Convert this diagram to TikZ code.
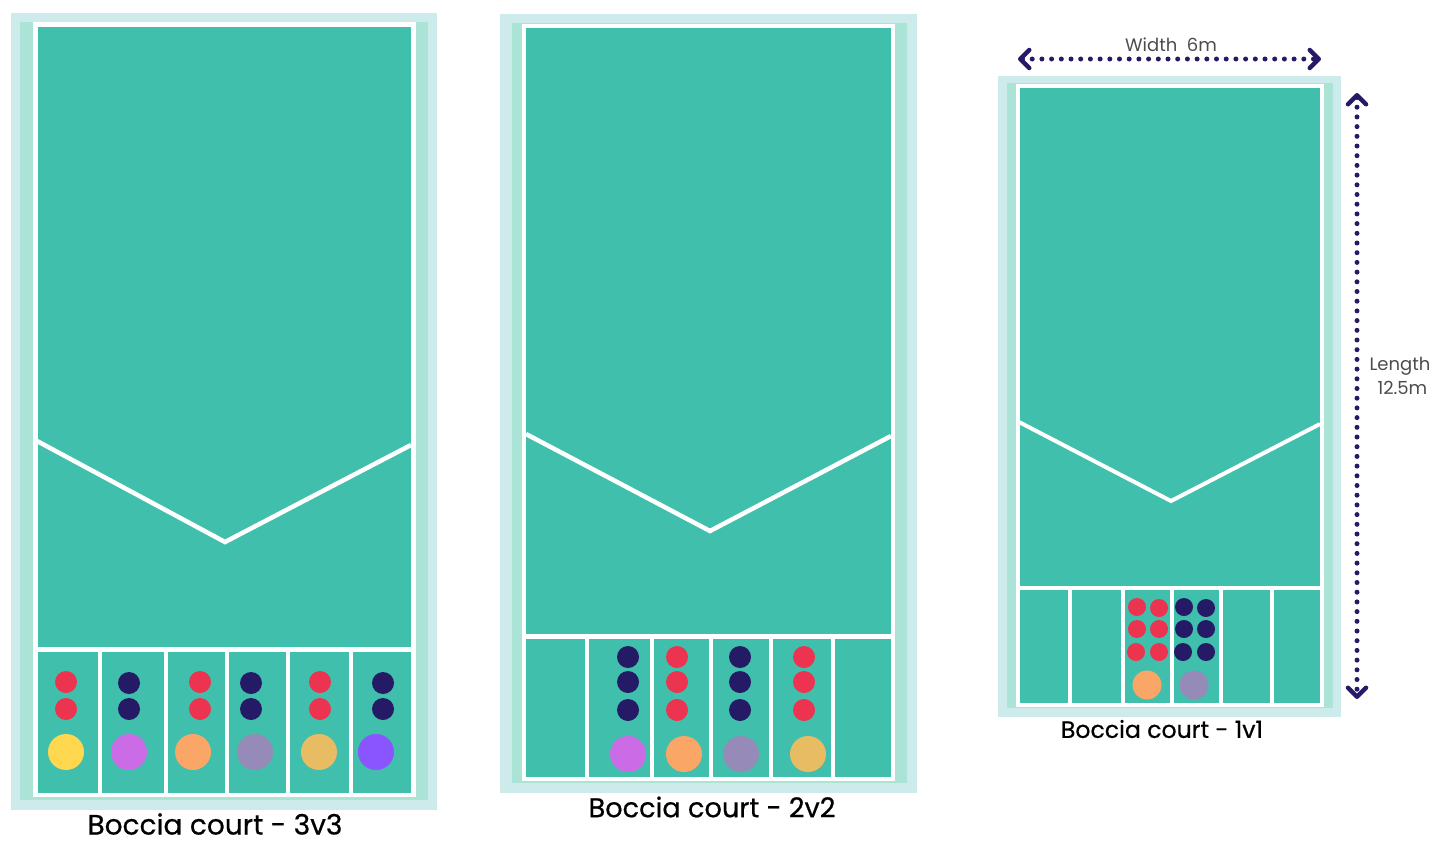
\documentclass[tikz,border=0pt]{standalone}
\usepackage{fontspec}
\setmainfont{Poppins}
\newfontfamily\titlefont[FakeBold=0.6]{Poppins}
\usetikzlibrary{arrows.meta}
\definecolor{paleedge}{HTML}{CDEBEB}
\definecolor{midedge}{HTML}{ABE3D6}
\definecolor{courtgreen}{HTML}{41BFAD}
\definecolor{ballred}{HTML}{EC3350}
\definecolor{ballnavy}{HTML}{251A66}
\definecolor{jackyellow}{HTML}{FFD84F}
\definecolor{jackpink}{HTML}{CB6BE6}
\definecolor{jackorange}{HTML}{F9A666}
\definecolor{jackgrey}{HTML}{968BB8}
\definecolor{jackgold}{HTML}{E8BC62}
\definecolor{jackviolet}{HTML}{8A55FF}

\begin{document}
\begin{tikzpicture}[x=1pt,y=-1pt,
    courtline/.style={draw=white,line width=4.5pt},
    ball/.style={circle,inner sep=0pt,minimum size=22pt},
    jack/.style={circle,inner sep=0pt,minimum size=36pt},
    title/.style={font=\titlefont\fontsize{28}{30}\selectfont,text=black},
    measure/.style={font=\fontsize{18}{24.5}\selectfont,text=black!70,align=center},
    dimension/.style={ballnavy,line width=5pt,line cap=round,dash pattern=on 0pt off 9.7pt,
      {Straight Barb[round,length=9pt,width=18pt,line width=4.5pt]}-{Straight Barb[round,length=9pt,width=18pt,line width=4.5pt]}}]
  \useasboundingbox (0,0) rectangle (1456,844);

  \fill[paleedge] (11,13) rectangle (437,810);
  \fill[midedge] (20,22) rectangle (428,800);
  \filldraw[courtline,fill=courtgreen] (35.5,24.5) rectangle (413.5,795);
  \draw[courtline] (36,649.5) -- (413,649.5);
  \foreach \x in {100,166,227,288,351}
    \draw[courtline] (\x,649.5) -- (\x,795);
  \draw[courtline] (37,441) -- (225,542) -- (411,445);
  \foreach \x/\y [count=\i] in {66/682,66/709,200/682,200/709,320/682,320/709}
    \node[ball,fill=ballred] (threered\i) at (\x,\y) {};
  \foreach \x/\y [count=\i] in {129/683,129/709,251/683,251/709,383/683,383/709}
    \node[ball,fill=ballnavy] (threenavy\i) at (\x,\y) {};
  \foreach \x/\c [count=\i] in {66/jackyellow,129/jackpink,193/jackorange,255/jackgrey,319/jackgold,376/jackviolet}
    \node[jack,fill=\c] (threejack\i) at (\x,752) {};
  \node[title] (threetitle) at (215,824) {Boccia court - 3v3};

  \fill[paleedge] (500,14) rectangle (917,793);
  \fill[midedge] (512,23) rectangle (907,783);
  \filldraw[courtline,fill=courtgreen] (524,26) rectangle (893,779);
  \draw[courtline] (524,636.5) -- (893,636.5);
  \foreach \x in {587,652,711,771,833}
    \draw[courtline] (\x,636.5) -- (\x,779);
  \draw[courtline] (526,434) -- (710,531) -- (891,436);
  \foreach \x/\y [count=\i] in {677/657,677/682,677/710,804/657,804/682,804/710}
    \node[ball,fill=ballred] (twored\i) at (\x,\y) {};
  \foreach \x/\y [count=\i] in {628/657,628/682,628/710,740/657,740/682,740/710}
    \node[ball,fill=ballnavy] (twonavy\i) at (\x,\y) {};
  \foreach \x/\c [count=\i] in {628/jackpink,684/jackorange,741/jackgrey,808/jackgold}
    \node[jack,fill=\c] (twojack\i) at (\x,754) {};
  \node[title,font=\titlefont\fontsize{27.2}{30}\selectfont] (twotitle) at (712,807) {Boccia court - 2v2};

  \fill[paleedge] (998,76) rectangle (1341,717);
  \fill[midedge] (1007,83) rectangle (1333,708);
  \filldraw[courtline,fill=courtgreen,line width=4pt] (1017.5,86) rectangle (1322,704.5);
  \draw[courtline,line width=4pt] (1018,587.5) -- (1322,587.5);
  \foreach \x in {1070,1123,1172,1221,1272}
    \draw[courtline,line width=4pt] (\x,587.5) -- (\x,704.5);
  \draw[courtline,line width=4pt] (1019,422) -- (1171,501) -- (1320,424);
  \foreach \x/\y [count=\i] in {1137/607,1159/608,1137/629,1159/629,1136/652,1159/652}
    \node[ball,fill=ballred,minimum size=18pt] (onered\i) at (\x,\y) {};
  \foreach \x/\y [count=\i] in {1184/607,1206/608,1184/629,1206/629,1183/652,1206/652}
    \node[ball,fill=ballnavy,minimum size=18pt] (onenavy\i) at (\x,\y) {};
  \node[jack,fill=jackorange,minimum size=29pt] (onejack1) at (1147,685) {};
  \node[jack,fill=jackgrey,minimum size=29pt] (onejack2) at (1194,685) {};
  \node[title,font=\titlefont\fontsize{23.6}{25}\selectfont] (onetitle) at (1162,729) {Boccia court - 1v1};

  \coordinate (widthleft) at (1018,59);
  \coordinate (widthright) at (1321,59);
  \coordinate (lengthtop) at (1357,93);
  \coordinate (lengthbottom) at (1357,699);
  \draw[dimension] (widthleft) -- (widthright);
  \draw[dimension] (lengthtop) -- (lengthbottom);
  \node[measure] (widthlabel) at (1171,45) {Width\ \ 6m};
  \node[measure] (lengthlabel) at (1400,376) {Length\\\ 12.5m};
\end{tikzpicture}
\end{document}
